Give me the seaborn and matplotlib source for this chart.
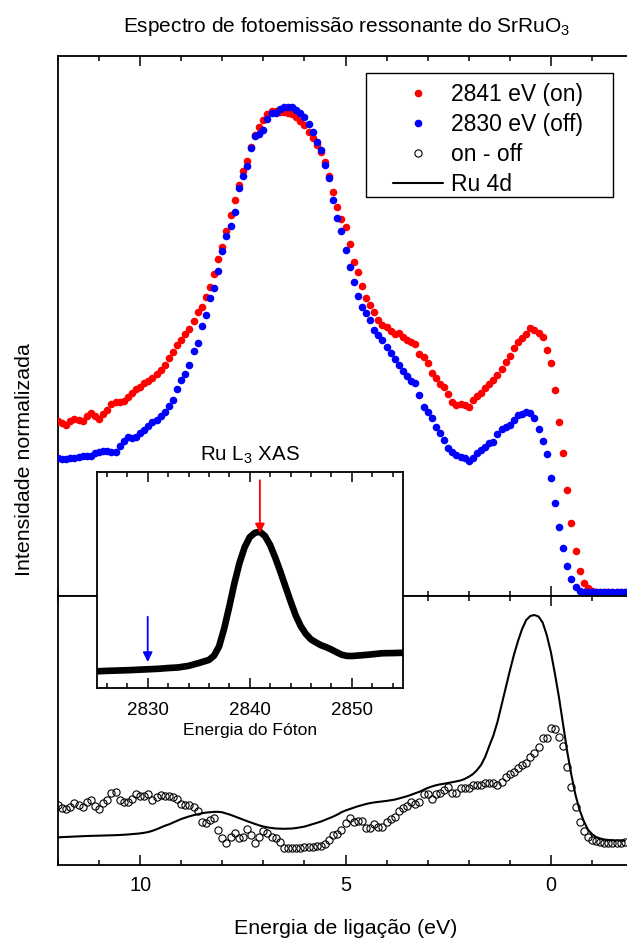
import numpy as np
import pandas as pd
import matplotlib
matplotlib.use("Agg")
import matplotlib.pyplot as plt
from matplotlib.ticker import MultipleLocator
from matplotlib.lines import Line2D
from matplotlib.patches import Rectangle
import seaborn as sns

# Binding-energy grid of the valence-band scans (eV), 0.1 eV steps
binding_energy = np.round(np.linspace(12.0, -1.8, 139), 1)

# Photoemission intensity on resonance (hv = 2841 eV), arbitrary units
on_2841 = [
    171, 169, 167, 171, 173, 172, 171, 176, 179, 176, 173,
    178, 182, 188, 190, 190, 191, 195, 199, 203, 205,
    209, 211, 214, 218, 222, 227, 234, 240, 247, 252,
    258, 263, 271, 280, 285, 295, 305, 318, 333, 345,
    361, 377, 392, 407, 421, 431, 445, 457, 465, 472,
    478, 481, 481, 480, 480, 479, 478, 475, 471, 467,
    460, 454, 447, 440, 430, 416, 400, 385, 373, 365,
    348, 330, 320, 306, 294, 287, 280, 272, 267, 265,
    261, 258, 259, 255, 252, 250, 248, 238, 235, 229,
    219, 214, 208, 205, 198, 190, 187, 188, 187, 185,
    192, 196, 199, 204, 208, 212, 217, 223, 230, 236,
    244, 250, 254, 258, 264, 262, 259, 255, 242, 229,
    202, 170, 139, 102, 69, 41, 21, 9, 4, 1,
    0, 0, 0, 0, 0, 0, 0, 0,
]

# Photoemission intensity off resonance (hv = 2830 eV), arbitrary units
off_2830 = [
    134, 133, 133, 134, 134, 135, 136, 136, 136, 139, 140,
    141, 141, 140, 140, 146, 151, 155, 154, 155, 159,
    162, 166, 170, 172, 176, 180, 186, 192, 203, 212,
    218, 227, 241, 249, 266, 277, 294, 304, 321, 341,
    356, 366, 380, 404, 416, 426, 444, 456, 458, 462,
    473, 479, 479, 483, 485, 485, 485, 482, 479, 475,
    468, 460, 450, 442, 427, 414, 392, 374, 361, 342,
    325, 310, 296, 285, 279, 272, 262, 257, 252, 245,
    239, 233, 227, 221, 216, 211, 209, 197, 185, 180,
    174, 165, 159, 152, 144, 140, 137, 135, 134, 131,
    134, 139, 142, 145, 149, 150, 158, 163, 165, 167,
    172, 177, 178, 180, 179, 174, 163, 151, 138, 114,
    89, 65, 44, 26, 13, 5, 1, 0, 0, 0,
    0, 0, 0, 0, 0, 0, 0, 0,
]

# Difference spectrum (on - off)
on_minus_off = [
    37, 34, 33, 35.3, 39.3, 37, 35.5, 40.5, 42, 36, 33,
    39, 42.5, 49.5, 50, 42.5, 40.3, 40.5, 43, 48.5, 46,
    46, 48, 42, 45.3, 47, 46, 46, 45.3, 43.5, 38,
    37, 37, 34.7, 31.3, 20.3, 19.3, 22, 23.7, 12, 4.5,
    -1, 5.5, 8.7, 3.7, 5.3, 12.7, 7, -0.5, 5.5, 11,
    9, 5.3, 3.7, 0.3, -6.3, -6.3, -6.3, -6.3, -6.3, -4.7,
    -4.7, -4.7, -4, -4, -1.5, 2.5, 6.8, 8.5, 12, 19.3,
    23.7, 20.3, 21.3, 21.3, 13.7, 13.7, 18, 14.7, 14.7, 20.3,
    22.7, 25.3, 31.3, 33.7, 36, 40.3, 38, 40.3, 48, 47.7,
    43, 48, 48.7, 52, 54.7, 49.3, 49.3, 53.7, 53.7, 53.7,
    57, 57, 57, 58.7, 59.3, 59.3, 57, 60.3, 64.7, 68,
    70.3, 73.7, 77, 78.7, 85.3, 88.7, 95.3, 103.7, 103.7, 113.7,
    112.7, 105.3, 96, 75.3, 55.3, 34.7, 20.3, 11.3, 5.3, 2,
    1.3, 0.3, -0.7, -0.7, -0.7, -0.7, -0.7, 0,
]

# Calculated Ru 4d partial density of states (broadened)
ru_4d = [
    4.7, 4.9, 5.1, 5.3, 5.5, 5.7, 5.8, 6.0, 6.1, 6.3, 6.4,
    6.5, 6.6, 6.7, 6.8, 7.0, 7.2, 7.5, 7.8, 8.2, 8.6,
    9.2, 10.0, 11.2, 12.7, 14.4, 16.2, 17.6, 19.4, 21.2, 23.0,
    24.4, 25.7, 26.8, 27.8, 28.7, 29.4, 29.8, 30.1, 30.2, 29.7,
    28.5, 27.2, 25.8, 24.2, 22.5, 20.9, 19.4, 18.0, 16.6, 15.5,
    14.6, 14.0, 13.5, 13.3, 13.2, 13.3, 13.5, 14.0, 14.7, 15.4,
    16.6, 17.8, 19.1, 20.4, 22.0, 23.7, 25.4, 27.4, 29.7, 31.5,
    33.0, 34.3, 35.7, 36.9, 38.0, 38.9, 39.6, 40.1, 40.6, 41.1,
    41.7, 42.4, 43.5, 44.6, 45.8, 47.2, 48.8, 50.2, 52.2, 54.0,
    55.5, 56.7, 57.6, 58.3, 59.0, 59.8, 60.6, 61.5, 63.0, 65.2,
    67.8, 71.8, 77.0, 85.0, 96.0, 106.5, 120.0, 137.0, 154.0, 171.0,
    187.0, 201.0, 213.0, 222.0, 226.0, 227.0, 225.5, 219.5, 207.0, 190.0,
    168.0, 144.0, 117.0, 90.0, 67.0, 47.0, 32.0, 21.0, 12.5, 8.0,
    5.0, 3.5, 2.5, 2.0, 1.7, 1.5, 1.4, 1.3,
]

# Ru L3-edge absorption spectrum (inset)
xas_photon = [
    2825, 2826, 2827, 2828, 2829, 2830, 2831, 2832, 2833, 2834, 2835,
    2836, 2836.5, 2837, 2837.5, 2838, 2838.5, 2839, 2839.5, 2840, 2840.5,
    2841, 2841.5, 2842, 2842.5, 2843, 2843.5, 2844, 2844.5, 2845, 2845.5,
    2846, 2846.5, 2847, 2847.5, 2848, 2848.5, 2849, 2849.5, 2850, 2851,
    2852, 2853, 2854, 2855,
]
xas_intensity = [
    0.105, 0.108, 0.110, 0.112, 0.115, 0.118, 0.121, 0.126, 0.130, 0.140, 0.158,
    0.178, 0.205, 0.265, 0.380, 0.520, 0.670, 0.800, 0.900, 0.965, 0.993,
    1.000, 0.972, 0.915, 0.835, 0.745, 0.650, 0.555, 0.465, 0.395, 0.345,
    0.310, 0.290, 0.272, 0.260, 0.245, 0.228, 0.212, 0.204, 0.203, 0.208,
    0.214, 0.221, 0.222, 0.224,
]
photon_on = 2841
photon_off = 2830

sns.set_theme(style="ticks")
plt.rcParams["font.family"] = ["Liberation Sans", "DejaVu Sans"]
plt.rcParams["mathtext.default"] = "regular"

RED = "#ff0000"
BLUE = "#0000ff"

df = pd.DataFrame({
    "E": binding_energy,
    "on": on_2841,
    "off": off_2830,
    "diff": on_minus_off,
    "ru4d": ru_4d,
})
xas = pd.DataFrame({"hv": xas_photon, "I": xas_intensity})

fig = plt.figure(figsize=(6.27, 9.40), dpi=100)
W, H = 627.0, 940.0
x0, x1 = 58.0, 633.0
ax_top = fig.add_axes([x0 / W, (H - 596) / H, (x1 - x0) / W, 540 / H])
ax_bot = fig.add_axes([x0 / W, (H - 865) / H, (x1 - x0) / W, 269 / H], sharex=ax_top)

# Upper panel: resonant and off-resonant spectra
sns.scatterplot(data=df, x="E", y="on", ax=ax_top, color=RED, s=30,
                linewidth=0, legend=False, zorder=3)
sns.scatterplot(data=df, x="E", y="off", ax=ax_top, color=BLUE, s=30,
                linewidth=0, legend=False, zorder=3)

# Lower panel: difference spectrum and Ru 4d PDOS
sns.lineplot(data=df, x="E", y="ru4d", ax=ax_bot, color="black", lw=1.5,
             zorder=2)
sns.lineplot(data=df, x="E", y="diff", ax=ax_bot, color="black",
             linestyle="", marker="o", markersize=5.2,
             markerfacecolor="none", markeredgecolor="black",
             markeredgewidth=0.8, zorder=3)

ax_top.set_xlim(12, -2)
ax_top.set_ylim(-4, 536)
ax_bot.set_ylim(-23, 246)

for ax in (ax_top, ax_bot):
    ax.set_xlabel("")
    ax.set_ylabel("")
    ax.xaxis.set_major_locator(MultipleLocator(5))
    ax.xaxis.set_minor_locator(MultipleLocator(1))
    ax.tick_params(axis="x", which="both", direction="in", top=True,
                   bottom=True, color="black", width=1.1)
    ax.tick_params(axis="x", which="major", length=7.2)
    ax.tick_params(axis="x", which="minor", length=3.6)
    ax.tick_params(axis="y", which="both", left=False, right=False,
                   labelleft=False)
    ax.spines["right"].set_visible(False)
    for side in ("left", "top", "bottom"):
        ax.spines[side].set_linewidth(1.3)
        ax.spines[side].set_color("black")
    ax.set_facecolor("white")

ax_top.tick_params(axis="x", labelbottom=False)
ax_bot.tick_params(axis="x", which="major", labelsize=14.3, pad=8,
                   labelcolor="black")
ax_bot.set_xticks([10, 5, 0])
ax_bot.set_xlim(12, -2)
ax_bot.set_xlabel("Energia de ligação (eV)", fontsize=15.4, labelpad=17,
                  color="black")

fig.text(25 / W, (H - 460) / H, "Intensidade normalizada", rotation=90,
         ha="center", va="center", fontsize=15.4, color="black")
fig.text(347 / W, (H - 26) / H,
         "Espectro de fotoemissão ressonante do SrRuO$_3$",
         ha="center", va="center", fontsize=15.0, color="black")

# Legend: entries without their own frame, boxed by a plain rectangle
frame = Rectangle((366 / W, (H - 197) / H), 247 / W, 124 / H,
                  transform=fig.transFigure, facecolor="white",
                  edgecolor="black", linewidth=1.0, zorder=4.5,
                  clip_on=False)
ax_top.add_patch(frame)
handles = [
    Line2D([], [], color=RED, marker="o", linestyle="", markersize=5.5,
           markeredgewidth=0),
    Line2D([], [], color=BLUE, marker="o", linestyle="", markersize=5.5,
           markeredgewidth=0),
    Line2D([], [], color="black", marker="o", linestyle="", markersize=5.2,
           markerfacecolor="none", markeredgewidth=0.8),
    Line2D([], [], color="black", lw=1.5),
]
labels = ["2841 eV (on)", "2830 eV (off)", "on - off", "Ru 4d"]
leg = ax_top.legend(handles, labels, loc="upper left",
                    bbox_to_anchor=(393 / W, (H - 83) / H),
                    bbox_transform=fig.transFigure, borderaxespad=0,
                    fontsize=16.5, frameon=False, handlelength=2.18,
                    handletextpad=0.35, borderpad=0, labelspacing=0.3)
leg.set_zorder(5)
for t in leg.get_texts():
    t.set_color("black")

# Inset: Ru L3 XAS
ax_in = fig.add_axes([96.7 / W, (H - 687.7) / H, 306 / W, 216 / H], zorder=5)
ax_in.set_facecolor("white")
sns.lineplot(data=xas, x="hv", y="I", ax=ax_in, color="black", lw=4.8,
             solid_capstyle="round", solid_joinstyle="round")
ax_in.set_xlim(2825, 2855)
ax_in.set_ylim(0, 1.385)
ax_in.xaxis.set_major_locator(MultipleLocator(10))
ax_in.xaxis.set_minor_locator(MultipleLocator(2))
ax_in.tick_params(axis="x", which="both", direction="in", top=True,
                  bottom=True, color="black", width=1.1)
ax_in.tick_params(axis="x", which="major", length=7.2, labelsize=13.5,
                  pad=10, labelcolor="black")
ax_in.tick_params(axis="x", which="minor", length=3.6)
ax_in.tick_params(axis="y", which="both", left=False, right=False,
                  labelleft=False)
for side in ("left", "right", "top", "bottom"):
    ax_in.spines[side].set_linewidth(1.3)
    ax_in.spines[side].set_color("black")
ax_in.set_ylabel("")
ax_in.set_xlabel("Energia do Fóton", fontsize=12.6, labelpad=3,
                 color="black")
ax_in.set_title("Ru L$_3$ XAS", fontsize=14.8, pad=8, color="black")

ax_in.annotate("", xy=(photon_on, 0.99), xytext=(photon_on, 1.33),
               arrowprops=dict(arrowstyle="-|>", color=RED, lw=1.3,
                               mutation_scale=14, shrinkA=0, shrinkB=0))
ax_in.annotate("", xy=(photon_off, 0.165), xytext=(photon_off, 0.455),
               arrowprops=dict(arrowstyle="-|>", color=BLUE, lw=1.3,
                               mutation_scale=14, shrinkA=0, shrinkB=0))

fig.savefig("out.png", dpi=100, facecolor="white")
